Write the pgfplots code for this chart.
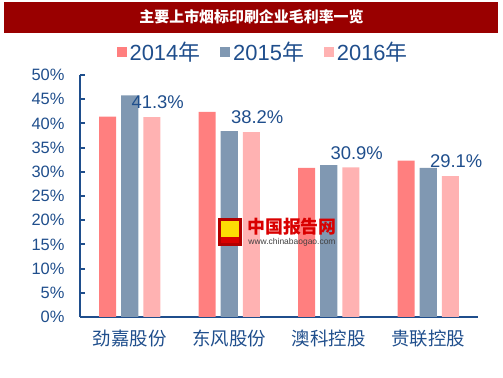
\documentclass[border=0pt]{standalone}
\usepackage{pgfplots}
\pgfplotsset{compat=1.18}
\usepackage{fontspec}
\setmainfont{Liberation Sans}
\newfontfamily\cjk{Noto Sans CJK SC}
\definecolor{tblue}{RGB}{31,78,140}
\definecolor{c14}{RGB}{255,127,127}
\definecolor{c15}{RGB}{128,152,178}
\definecolor{c16}{RGB}{255,178,178}
\definecolor{titlered}{RGB}{153,0,0}
\begin{document}
\begin{tikzpicture}
\useasboundingbox (0bp,0bp) rectangle (503bp,378bp);
\fill[titlered] (4bp,345bp) rectangle (498bp,376bp);
\node[text=white,font=\cjk\bfseries\fontsize{15}{18}\selectfont] at (251.5bp,361bp) {主要上市烟标印刷企业毛利率一览};
\begin{axis}[
  at={(80bp,61bp)}, anchor=south west,
  width=398bp, height=242bp, scale only axis,
  ybar=5bp, bar width=17bp,
  xmin=-0.5, xmax=3.5, ymin=0, ymax=50,
  axis x line=bottom, axis y line=left,
  axis line style={-, tblue, line width=2.2bp},
  xtick={0,1,2,3},
  xticklabels={劲嘉股份,东风股份,澳科控股,贵联控股},
  xticklabel style={font=\cjk\fontsize{18.5}{20}\selectfont, text=tblue, yshift=-9bp},
  xtick style={draw=none},
  ytick={0,5,...,50},
  yticklabels={0\%,5\%,10\%,15\%,20\%,25\%,30\%,35\%,40\%,45\%,50\%},
  yticklabel style={font=\fontsize{16.5}{19}\selectfont, text=tblue, xshift=-12bp},
  tick align=inside, major tick length=5bp,
  ytick style={tblue, line width=2bp},
  clip=false,
  legend style={at={(0.46,1.095)}, anchor=center, draw=none, fill=none,
    font=\fontsize{22}{24}\selectfont, text=tblue,
    /tikz/every even column/.append style={column sep=18bp},
    /tikz/every odd column/.append style={column sep=1bp}},
  legend columns=3,
  legend image code/.code={\fill[#1] (0bp,-5bp) rectangle (10bp,5bp);},
  nodes near coords style={font=\fontsize{18.5}{20}\selectfont, text=tblue},
]
\addplot[fill=c14, draw=none] coordinates {(0,41.4) (1,42.4) (2,30.8) (3,32.3)};
\addplot[fill=c15, draw=none] coordinates {(0,45.8) (1,38.4) (2,31.4) (3,30.8)};
\addplot[fill=c16, draw=none, point meta=explicit symbolic,
  nodes near coords,
  every node near coord/.append style={anchor=center, xshift=6bp, yshift=14.5bp}]
  coordinates {(0,41.3)[41.3\%] (1,38.2)[38.2\%] (2,30.9)[30.9\%] (3,29.1)[29.1\%]};
\legend{2014{\cjk 年},2015{\cjk 年},2016{\cjk 年}}
\end{axis}
% watermark
\fill[red!70!black] (218bp,132bp) rectangle (242bp,160bp);
\fill[yellow!80!orange] (221bp,139bp) rectangle (239bp,157bp);
\fill[red!85!black] (221bp,135bp) rectangle (239bp,141bp);
\node[text=red!85!black,font=\cjk\bfseries\fontsize{18}{20}\selectfont] at (292bp,151bp) {中国报告网};
\node[text=black!75,font=\fontsize{8.5}{10}\selectfont] at (292bp,136bp) {www.chinabaogao.com};
\end{tikzpicture}
\end{document}
